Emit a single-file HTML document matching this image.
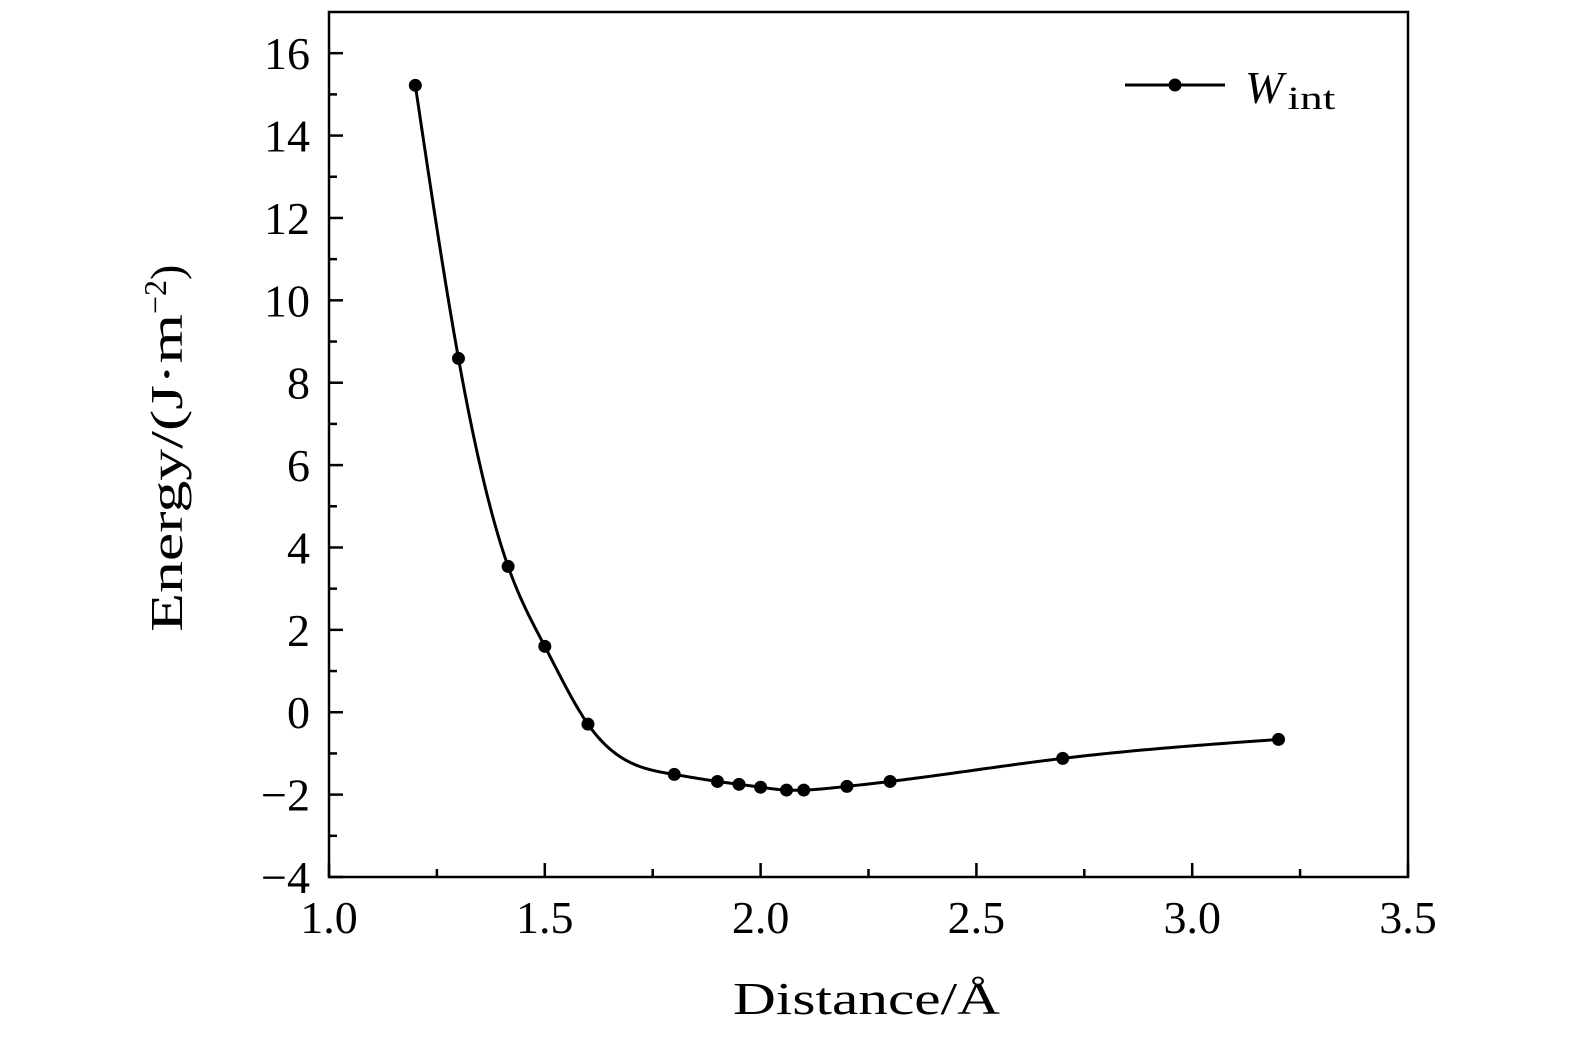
<!DOCTYPE html>
<html><head><meta charset="utf-8"><style>
html,body{margin:0;padding:0;background:#fff;}
svg{display:block;font-family:"Liberation Serif",serif;}
</style></head><body>
<svg id="chart" width="1575" height="1043" viewBox="0 0 1575 1043" xmlns="http://www.w3.org/2000/svg">
<g id="axes"></g>
<g id="series"></g>
<g>
<line x1="1125" y1="85" x2="1225" y2="85" stroke="#000" stroke-width="3"/>
<circle cx="1175" cy="85" r="6.5" fill="#000"/>
<text x="1245" y="103" font-size="46"><tspan font-style="italic">W</tspan><tspan font-size="33" dy="6" dx="4" textLength="48" lengthAdjust="spacingAndGlyphs">int</tspan></text>
</g>
<text x="733" y="1014" font-size="46" textLength="267" lengthAdjust="spacingAndGlyphs">Distance/Å</text>
<text transform="translate(182,632) rotate(-90)" font-size="46"><tspan textLength="318" lengthAdjust="spacingAndGlyphs">Energy/(J·m</tspan><tspan font-size="32" dy="-16">−2</tspan><tspan dy="16">)</tspan></text>
</svg>
<script>
const xs = [1.2,1.3,1.415,1.5,1.6,1.8,1.9,1.95,2.0,2.06,2.1,2.2,2.3,2.7,3.2];
const ys = [15.22,8.59,3.54,1.60,-0.29,-1.51,-1.68,-1.75,-1.82,-1.89,-1.89,-1.80,-1.68,-1.12,-0.66];
const xTicks = [1.0,1.5,2.0,2.5,3.0,3.5];
const xTickLabels = ["1.0","1.5","2.0","2.5","3.0","3.5"];
const yTicks = [-4,-2,0,2,4,6,8,10,12,14,16];
const yTickLabels = ["−4","−2","0","2","4","6","8","10","12","14","16"];

const L=329,R=1408,T=12,B=877,xMin=1.0,xMax=3.5,yMin=-4,yMax=17;
const sx=v=>L+(v-xMin)/(xMax-xMin)*(R-L);
const sy=v=>B-(v-yMin)/(yMax-yMin)*(B-T);
const NS="http://www.w3.org/2000/svg";
const axes=document.getElementById('axes');
const ser=document.getElementById('series');
function mk(tag,attrs,parent){const e=document.createElementNS(NS,tag);for(const k in attrs)e.setAttribute(k,attrs[k]);parent.appendChild(e);return e;}

const frame=mk('rect',{x:L,y:T,width:R-L,height:B-T,fill:'none',stroke:'#000','stroke-width':2.5},axes);



xTicks.forEach((v,i)=>{
  const t=mk('line',{x1:sx(v),x2:sx(v),y1:B,y2:B-14,stroke:'#000','stroke-width':2.5},axes);
  
  
  const lb=mk('text',{x:sx(v),y:B+56,'font-size':46,'text-anchor':'middle'},axes);
  lb.textContent=xTickLabels[i];
  
  
  if(i<xTicks.length-1){
    const m=(v+xTicks[i+1])/2;
    const mt=mk('line',{x1:sx(m),x2:sx(m),y1:B,y2:B-8,stroke:'#000','stroke-width':2.5},axes);
    
    
  }
});
yTicks.forEach((v,i)=>{
  const t=mk('line',{x1:L,x2:L+14,y1:sy(v),y2:sy(v),stroke:'#000','stroke-width':2.5},axes);
  
  
  const lb=mk('text',{x:L-19,y:sy(v)+16,'font-size':46,'text-anchor':'end'},axes);
  lb.textContent=yTickLabels[i];
  
  
  if(i<yTicks.length-1){
    const m=(v+yTicks[i+1])/2;
    const mt=mk('line',{x1:L,x2:L+8,y1:sy(m),y2:sy(m),stroke:'#000','stroke-width':2.5},axes);
    
    
  }
});

// natural cubic spline in data space
const n=xs.length;
const h=[];for(let i=0;i<n-1;i++)h.push(xs[i+1]-xs[i]);
const al=new Array(n).fill(0);
for(let i=1;i<n-1;i++)al[i]=3/h[i]*(ys[i+1]-ys[i])-3/h[i-1]*(ys[i]-ys[i-1]);
const l=new Array(n).fill(1),mu=new Array(n).fill(0),z=new Array(n).fill(0);
for(let i=1;i<n-1;i++){l[i]=2*(xs[i+1]-xs[i-1])-h[i-1]*mu[i-1];mu[i]=h[i]/l[i];z[i]=(al[i]-h[i-1]*z[i-1])/l[i];}
const c=new Array(n).fill(0),b=new Array(n).fill(0),dd=new Array(n).fill(0);
for(let j=n-2;j>=0;j--){c[j]=z[j]-mu[j]*c[j+1];b[j]=(ys[j+1]-ys[j])/h[j]-h[j]*(c[j+1]+2*c[j])/3;dd[j]=(c[j+1]-c[j])/(3*h[j]);}
let d='';
for(let i=0;i<n-1;i++){
  const steps=40;
  for(let k=0;k<=steps;k++){
    const t=h[i]*k/steps;
    const y=ys[i]+b[i]*t+c[i]*t*t+dd[i]*t*t*t;
    d+=(d===''?'M':'L')+sx(xs[i]+t).toFixed(2)+','+sy(y).toFixed(2);
  }
}
const path=mk('path',{d:d,fill:'none',stroke:'#000','stroke-width':3,'stroke-linejoin':'round'},ser);


xs.forEach((x,i)=>{
  const cc=mk('circle',{cx:sx(x),cy:sy(ys[i]),r:6.5,fill:'#000'},ser);
  
  
});
</script>
</body></html>
